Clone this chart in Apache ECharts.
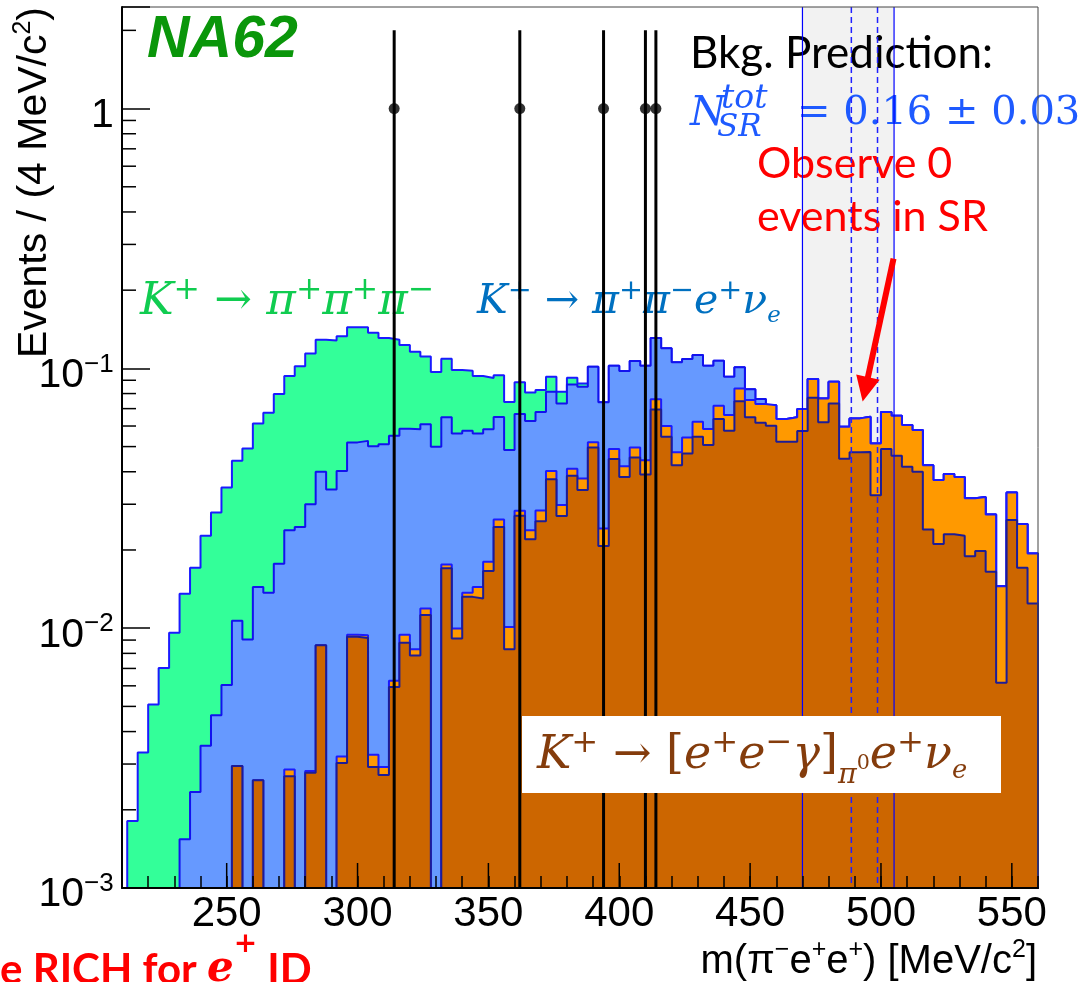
<!DOCTYPE html>
<html>
<head>
<meta charset="utf-8">
<title>NA62 m(pi- e+ e+)</title>
<script src="https://cdn.jsdelivr.net/npm/echarts@6/dist/echarts.min.js"></script>
<style>
  html, body { margin: 0; padding: 0; background: #fff; }
  #chart { width: 1082px; height: 982px; }
</style>
</head>
<body>
<div id="chart"></div>
<script>
// 4 MeV bins, 212 .. 560 MeV/c2
const binLow = 212;
const binWidth = 4;

// stacked heights (top of each layer), one value per bin.
// 0 = empty bin, null = this process adds nothing on top of the layer below.
const stackBrown = [ // K+ -> [e+e-g]pi0 e+ nu
  0, 0, 0, 0, 0, 0, 0, 0, 0, 0,
  0.00295, 0, 0.0026, 0, 0, 0.00269, 0, 0.00278, 0.0086, 0,
  0.00303, 0.00926, 0.00917, 0.00292, 0.00272, 0.00594, 0.00878, 0.00785, 0.01125, 0,
  0.017, 0.00912, 0.0132, 0.013, 0.0166, 0.0245, 0.0083, 0.0271, 0.022, 0.0258,
  0.0374, 0.027, 0.0386, 0.034, 0.0496, 0.0207, 0.0448, 0.0382, 0.0454, 0.039,
  0.0695, 0.0545, 0.0424, 0.047, 0.0545, 0.0507, 0.0638, 0.0575, 0.0748, 0.0648,
  0.0617, 0.0601, 0.0522, 0.0522, 0.0574, 0.077, 0.062, 0.0733, 0.0449, 0.0476,
  0.0477, 0.0325, 0.0489, 0.0461, 0.0418, 0.040, 0.024, 0.0211, 0.023, 0.0227,
  0.0189, 0.0198, 0.0165, 0.00616, 0.0261, 0.0171, 0.01245
];
const stackOrange = [
  null, null, null, null, null, null, null, null, null, null,
  null, null, null, null, null, 0.00286, null, 0.00282, null, null,
  0.00321, 0.00944, 0.0094, 0.00326, 0.00292, 0.00627, 0.00944, 0.0083, 0.0119, null,
  0.0176, 0.00997, 0.0137, 0.0144, 0.018, 0.0262, 0.0101, 0.0283, 0.0238, 0.0284,
  0.0403, 0.0298, 0.0411, 0.0377, 0.052, 0.0242, 0.0489, 0.042, 0.0496, 0.0443,
  0.076, 0.06, 0.0476, 0.0542, 0.0623, 0.0584, 0.0718, 0.0661, 0.0837, 0.0755,
  0.0729, 0.0722, 0.0638, 0.0648, 0.0697, 0.091, 0.0766, 0.0888, 0.0596, 0.0642,
  0.0651, 0.0514, 0.068, 0.0657, 0.0605, 0.0579, 0.0424, 0.0372, 0.0392, 0.0382,
  0.0316, 0.032, 0.0274, 0.0145, 0.0333, 0.0252, 0.0194
];
const stackBlue = [ // K+ -> pi+ pi- e+ nu
  null, null, null, null, null, 0.00154, 0.00234, 0.00353, 0.00462, 0.00605,
  0.01067, 0.00904, 0.0144, 0.0137, 0.0177, 0.0238, 0.0245, 0.030, 0.040, 0.0342,
  0.0403, 0.0519, 0.0526, 0.0502, 0.0511, 0.055, 0.0586, 0.0583, 0.061, 0.0499,
  0.0648, 0.0562, 0.0575, 0.0562, 0.0583, 0.065, 0.0485, 0.0667, 0.0627, 0.068,
  0.0813, 0.0733, 0.0867, 0.085, 0.1014, 0.074, 0.1024, 0.0976, 0.1067, 0.1024,
  0.131, 0.1194, 0.1055, 0.1086, 0.1125, 0.1024, 0.107, 0.0928, 0.1009, 0.0832,
  0.0762, null, null, null, null, null, null, null, null, null,
  null, null, null, null, null, null, null, null, null, null,
  null, null, null, null, null, null, null
];
const stackGreen = [ // K+ -> pi+ pi+ pi-
  0.00181, 0.00332, 0.00508, 0.00703, 0.0096, 0.01356, 0.0171, 0.0227, 0.0279, 0.0348,
  0.0441, 0.0492, 0.0614, 0.0675, 0.0796, 0.0934, 0.102, 0.114, 0.129, 0.128,
  0.133, 0.144, 0.144, 0.137, 0.131, 0.129, 0.123, 0.116, 0.111, 0.0968,
  0.109, 0.0985, 0.098, 0.0934, 0.0918, 0.094, 0.0742, 0.0884, 0.0808, 0.0825,
  0.0928, 0.0813, 0.092, 0.0875, null, null, null, null, null, null,
  null, null, null, null, null, null, null, null, null, null,
  null, null, null, null, null, null, null, null, null, null,
  null, null, null, null, null, null, null, null, null, null,
  null, null, null, null, null, null, null
];

// observed events, symmetric sqrt(N) errors
const dataMass = [314, 362, 394, 410, 414];
const dataEvents = [1, 1, 1, 1, 1];
const dataErr = [1, 1, 1, 1, 1];

const srEdges = [470, 505];
const kaonWindow = [488.68, 498.68];
const arrowFromTo = [504.8, 0.2645, 493.0, 0.0745];

const xMajorTicks = [250, 300, 350, 400, 450, 500, 550];
const xMin = 210, xMax = 560;
const yMin = 0.001, yMax = 2.46;

const FLOOR = 1e-5;
const nBins = stackBrown.length;

const onTop = (vals, below) => vals.map((v, i) => (v == null ? below[i] : v));
const cumBrown = stackBrown;
const cumOrange = onTop(stackOrange, cumBrown);
const cumBlue = onTop(stackBlue, cumOrange);
const cumGreen = onTop(stackGreen, cumBlue);

function histPoints(vals) {
  const end = binLow + nBins * binWidth;
  const last = vals[nBins - 1];
  const pts = [[binLow, FLOOR]];
  vals.forEach((v, i) => pts.push([binLow + i * binWidth, v > 0 ? v : FLOOR]));
  pts.push([end, last > 0 ? last : FLOOR]);
  pts.push([end, FLOOR]);
  return pts;
}

const yMinorTicks = [];
for (let e = -3; e <= 0; e++) {
  for (let m = 2; m <= 9; m++) {
    const v = m * Math.pow(10, e);
    if (v < yMax) yMinorTicks.push(v);
  }
}

const MATH = 'DejaVu Serif';
const SANS = 'Liberation Sans';

// rich token, dy = vertical shift of the glyph centre from the line centre
function tok(size, dy, extra) {
  const L = 90;
  return Object.assign({
    fontSize: size, lineHeight: L, verticalAlign: 'top',
    padding: [L / 2 + dy - size / 2, 0, 0, 0]
  }, extra);
}

function mathRich(S, fill) {
  return {
    i: tok(S, 0, { fontFamily: MATH, fontStyle: 'italic', fill }),
    r: tok(S, 0, { fontFamily: MATH, fill }),
    p: tok(0.7 * S, -0.27 * S, { fontFamily: MATH, fill }),
    b: tok(0.56 * S, 0.33 * S, { fontFamily: MATH, fontStyle: 'italic', fill }),
    q: tok(0.62 * S, 0.42 * S, { fontFamily: MATH, fontStyle: 'italic', fill }),
    z: tok(0.45 * S, 0.16 * S, { fontFamily: MATH, fill })
  };
}

function tickLine(p, dx, dy) {
  return {
    type: 'line',
    shape: { x1: p[0], y1: p[1], x2: p[0] + dx, y2: p[1] + dy },
    style: { stroke: '#000', lineWidth: 1.5 }
  };
}

const chart = echarts.init(document.getElementById('chart'));

const histColors = [
  { vals: cumGreen, fill: '#33ff99', line: '#1a1aff', z: 2 },
  { vals: cumBlue, fill: '#6699ff', line: '#1212ee', z: 3 },
  { vals: cumOrange, fill: '#ff9900', line: '#1a1aff', z: 4 },
  { vals: cumBrown, fill: '#cc6600', line: '#1c1c96', z: 5 }
];

const histSeries = histColors.map(h => ({
  type: 'line',
  step: 'end',
  data: histPoints(h.vals),
  symbol: 'none',
  showSymbol: false,
  clip: true,
  silent: true,
  z: h.z,
  lineStyle: { color: h.line, width: 2 },
  areaStyle: { color: h.fill, opacity: 1, origin: 'start' }
}));

const blueText = '#1e5aff';
const red = '#ff0000';

chart.setOption({
  animation: false,
  backgroundColor: '#fff',
  grid: {
    left: 122, top: 7, right: 44, bottom: 94,
    containLabel: false, outerBoundsMode: 'none',
    show: true, borderColor: '#444', borderWidth: 1, z: 16
  },
  xAxis: {
    type: 'value', min: xMin, max: xMax, interval: 10, z: 16,
    axisLine: { lineStyle: { color: '#000', width: 2 } },
    axisTick: { inside: true, length: 12, lineStyle: { color: '#000', width: 1.5 } },
    splitLine: { show: false },
    axisLabel: {
      margin: 5, fontFamily: SANS, fontSize: 42, color: '#000',
      formatter: v => (v % 50 === 0 ? String(v) : '')
    }
  },
  yAxis: {
    type: 'log', logBase: 10, min: yMin, max: yMax, z: 16,
    axisLine: { lineStyle: { color: '#000', width: 2 } },
    axisTick: { inside: true, length: 28, lineStyle: { color: '#000', width: 1.5 } },
    splitLine: { show: false },
    axisLabel: {
      margin: 8,
      formatter: v => {
        const lg = Math.log10(v);
        const e = Math.round(lg);
        if (Math.abs(lg - e) > 1e-6) return '';
        if (e === 0) return '{n|1}{s| }';
        return '{n|10}{e|\u2212' + (-e) + '}{s| }';
      },
      rich: {
        n: { fontFamily: SANS, fontSize: 41, color: '#000', lineHeight: 60, verticalAlign: 'top', padding: [16.5, 0, 0, 0] },
        e: { fontFamily: SANS, fontSize: 26, color: '#000', lineHeight: 60, verticalAlign: 'top', padding: [13, 0, 0, 0] },
        s: { fontSize: 1, lineHeight: 60, verticalAlign: 'top' }
      }
    }
  },
  series: [
    { // signal region band
      type: 'custom', coordinateSystem: 'cartesian2d', silent: true, z: 1,
      data: [[srEdges[0], yMin, srEdges[1]]],
      renderItem: (params, api) => {
        const a = api.coord([api.value(0), yMax]);
        const b = api.coord([api.value(2), yMin]);
        return { type: 'rect', shape: { x: a[0], y: a[1], width: b[0] - a[0], height: b[1] - a[1] }, style: { fill: '#f2f2f2' } };
      }
    },
    ...histSeries,
    { // SR edges
      type: 'custom', coordinateSystem: 'cartesian2d', silent: true, z: 7,
      data: srEdges.map(x => [x, yMin]),
      renderItem: (params, api) => {
        const a = api.coord([api.value(0), yMax]);
        const b = api.coord([api.value(0), yMin]);
        return { type: 'line', shape: { x1: a[0], y1: a[1], x2: b[0], y2: b[1] }, style: { stroke: '#0000ff', lineWidth: 1.2 } };
      }
    },
    { // kaon mass window
      type: 'custom', coordinateSystem: 'cartesian2d', silent: true, z: 7,
      data: kaonWindow.map(x => [x, yMin]),
      renderItem: (params, api) => {
        const a = api.coord([api.value(0), yMax]);
        const b = api.coord([api.value(0), yMin]);
        return { type: 'line', shape: { x1: a[0], y1: a[1], x2: b[0], y2: b[1] }, style: { stroke: '#2020ff', lineWidth: 1.5, lineDash: [6, 4] } };
      }
    },
    { // data error bars
      type: 'custom', coordinateSystem: 'cartesian2d', silent: true, z: 8,
      data: dataMass.map((x, i) => [x, dataEvents[i], dataErr[i]]),
      renderItem: (params, api) => {
        const x = api.value(0), y = api.value(1), err = api.value(2);
        const a = api.coord([x, Math.max(y - err, yMin)]);
        const b = api.coord([x, y + err]);
        return { type: 'line', shape: { x1: a[0], y1: a[1], x2: b[0], y2: b[1] }, style: { stroke: '#000', lineWidth: 3 } };
      }
    },
    {
      type: 'scatter', silent: true, z: 9,
      data: dataMass.map((x, i) => [x, dataEvents[i]]),
      symbol: 'circle', symbolSize: 11,
      itemStyle: { color: '#000' }
    },
    { // red arrow to the SR
      type: 'custom', coordinateSystem: 'cartesian2d', silent: true, z: 10,
      data: [arrowFromTo],
      renderItem: (params, api) => {
        const a = api.coord([api.value(0), api.value(1)]);
        const b = api.coord([api.value(2), api.value(3)]);
        const dx = b[0] - a[0], dy = b[1] - a[1];
        const len = Math.hypot(dx, dy), ux = dx / len, uy = dy / len;
        const headL = 25, headW = 12;
        const base = [b[0] - ux * headL, b[1] - uy * headL];
        return {
          type: 'group',
          children: [
            { type: 'line', shape: { x1: a[0], y1: a[1], x2: base[0] + ux * 3, y2: base[1] + uy * 3 }, style: { stroke: red, lineWidth: 6 } },
            { type: 'polygon', shape: { points: [b, [base[0] - uy * headW, base[1] + ux * headW], [base[0] + uy * headW, base[1] - ux * headW]] }, style: { fill: red } }
          ]
        };
      }
    },
    { // long x ticks
      type: 'custom', coordinateSystem: 'cartesian2d', silent: true, z: 17,
      data: xMajorTicks.map(v => [v, yMin]),
      renderItem: (params, api) => tickLine(api.coord([api.value(0), yMin]), 0, -25)
    },
    { // y minor ticks
      type: 'custom', coordinateSystem: 'cartesian2d', silent: true, z: 17,
      data: yMinorTicks.map(v => [xMin, v]),
      renderItem: (params, api) => tickLine(api.coord([xMin, api.value(1)]), 14, 0)
    }
  ],
  graphic: [
    {
      type: 'text', x: 147, y: 41, z: 6,
      style: { text: 'NA62', fontFamily: SANS, fontWeight: 'bold', fontStyle: 'italic', fontSize: 59, fill: '#0a960a', align: 'left', verticalAlign: 'middle' }
    },
    {
      type: 'text', x: 690, y: 54, z: 6,
      style: { text: 'Bkg. Prediction:', fontFamily: 'Lato', fontSize: 44, fill: '#000', align: 'left', verticalAlign: 'middle' }
    },
    { type: 'text', x: 690, y: 114, z: 6, style: { text: '{i|N}', rich: mathRich(41, blueText), align: 'left', verticalAlign: 'middle' } },
    { type: 'text', x: 721, y: 114, z: 6, style: { text: '{t|tot}', rich: { t: tok(33, -15, { fontFamily: MATH, fontStyle: 'italic', fill: blueText }) }, align: 'left', verticalAlign: 'middle' } },
    { type: 'text', x: 717, y: 114, z: 6, style: { text: '{t|SR}', rich: { t: tok(31, 14, { fontFamily: MATH, fontStyle: 'italic', fill: blueText }) }, align: 'left', verticalAlign: 'middle' } },
    { type: 'text', x: 797, y: 114, z: 6, style: { text: '{r|= 0.16 \u00b1 0.03}', rich: mathRich(40, blueText), align: 'left', verticalAlign: 'middle' } },
    {
      type: 'text', x: 757, y: 164, z: 6,
      style: { text: 'Observe 0', fontFamily: 'Lato', fontSize: 43, fill: red, align: 'left', verticalAlign: 'middle' }
    },
    {
      type: 'text', x: 757, y: 217, z: 6,
      style: { text: 'events in SR', fontFamily: 'Lato', fontSize: 43, fill: red, align: 'left', verticalAlign: 'middle' }
    },
    {
      type: 'text', x: 140, y: 302.6, z: 6,
      style: {
        text: '{i|K}{p|+}{r| \u2192 }{i|\u03c0}{p|+}{i|\u03c0}{p|+}{i|\u03c0}{p|\u2212}',
        rich: mathRich(45, '#10cc50'), align: 'left', verticalAlign: 'middle'
      }
    },
    {
      type: 'text', x: 477, y: 302.6, z: 6,
      style: {
        text: '{i|K}{p|+}{r| \u2192 }{i|\u03c0}{p|+}{i|\u03c0}{p|\u2212}{i|e}{p|+}{i|\u03bd}{b|e}',
        rich: mathRich(41, '#0070c0'), align: 'left', verticalAlign: 'middle'
      }
    },
    { type: 'rect', z: 14, shape: { x: 522, y: 716, width: 479, height: 77 }, style: { fill: '#fff' } },
    {
      type: 'text', x: 537, y: 756, z: 15,
      style: {
        text: '{i|K}{p|+}{r| \u2192 [}{i|e}{p|+}{i|e}{p|\u2212}{i|\u03b3}{r|]}{q|\u03c0}{z|0}{i|e}{p|+}{i|\u03bd}{b|e}',
        rich: mathRich(46, '#843c0c'), align: 'left', verticalAlign: 'middle'
      }
    },
    {
      type: 'text', x: 35, y: 7, rotation: Math.PI / 2, z: 6,
      style: {
        text: '{t|Events / (4 MeV/c}{s|2}{t|)}',
        rich: {
          t: tok(41, 0, { fontFamily: SANS, fill: '#000' }),
          s: tok(25, -12, { fontFamily: SANS, fill: '#000' })
        },
        align: 'right', verticalAlign: 'middle'
      }
    },
    {
      type: 'text', x: 1037, y: 962, z: 6,
      style: {
        text: '{t|m(\u03c0}{s|\u2212}{t|e}{s|+}{t|e}{s|+}{t|) [MeV/c}{s|2}{t|]}',
        rich: {
          t: tok(40, 0, { fontFamily: SANS, fill: '#000' }),
          s: tok(25, -12, { fontFamily: SANS, fill: '#000' })
        },
        align: 'right', verticalAlign: 'middle'
      }
    },
    {
      type: 'text', x: 0, y: 970, z: 6,
      style: {
        text: '{r|e RICH for }{e|e}{p|+}{r| ID}',
        rich: {
          r: tok(42, 0, { fontFamily: 'Lato', fontWeight: 'bold', fill: red }),
          e: tok(42, 0, { fontFamily: MATH, fontStyle: 'italic', fontWeight: 'bold', fill: red }),
          p: tok(28, -25, { fontFamily: MATH, fontWeight: 'bold', fill: red })
        },
        align: 'left', verticalAlign: 'middle'
      }
    }
  ]
});
</script>
</body>
</html>
